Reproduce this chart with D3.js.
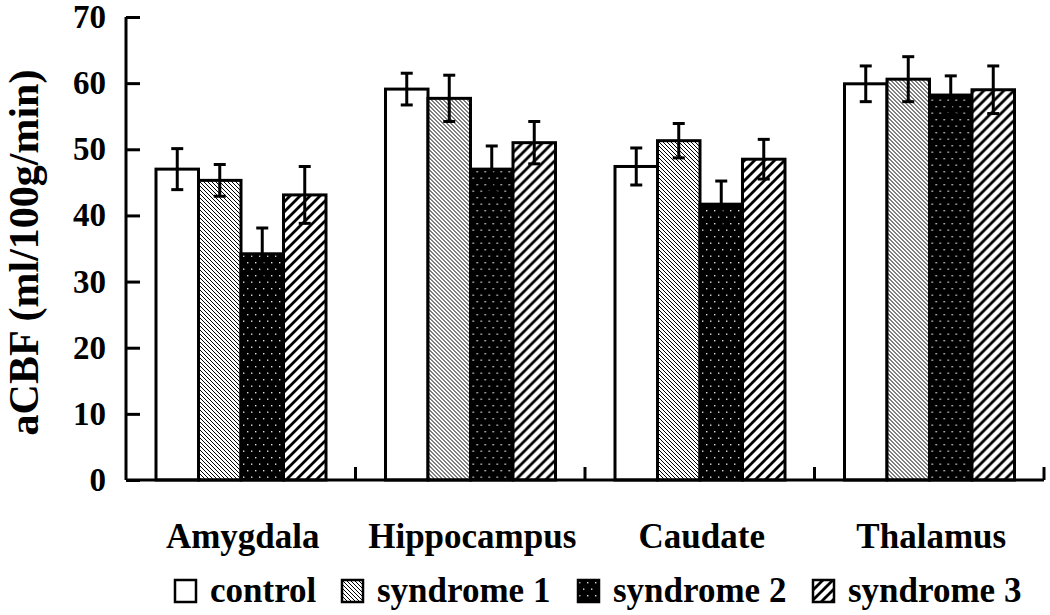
<!DOCTYPE html>
<html>
<head>
<meta charset="utf-8">
<script src="https://cdn.jsdelivr.net/npm/d3@7"></script>
<style>
  html, body { margin: 0; padding: 0; background: #fff; }
  svg { display: block; }
  text { font-family: "Liberation Serif", "Times New Roman", serif; font-weight: bold; fill: #000; }
</style>
</head>
<body>
<svg id="chart" width="1050" height="615"></svg>
<script>
// ---- data ----
const categories = ["Amygdala", "Hippocampus", "Caudate", "Thalamus"];
const seriesNames = ["control", "syndrome 1", "syndrome 2", "syndrome 3"];
const controlValues   = [47.0, 59.1, 47.4, 59.9];
const controlErrors   = [3.1, 2.4, 2.8, 2.7];
const syndrome1Values = [45.3, 57.7, 51.3, 60.6];
const syndrome1Errors = [2.4, 3.5, 2.6, 3.4];
const syndrome2Values = [34.2, 47.0, 41.7, 58.2];
const syndrome2Errors = [3.9, 3.5, 3.5, 2.9];
const syndrome3Values = [43.1, 51.0, 48.5, 59.0];
const syndrome3Errors = [4.3, 3.2, 3.0, 3.6];
const yTicks = [0, 10, 20, 30, 40, 50, 60, 70];
const yTitle = "aCBF (ml/100g/min)";

const seriesValues = [controlValues, syndrome1Values, syndrome2Values, syndrome3Values];
const seriesErrors = [controlErrors, syndrome1Errors, syndrome2Errors, syndrome3Errors];
const fills = ["#fff", "url(#pat1)", "url(#pat2)", "url(#pat3)"];

const svg = d3.select("#chart");

// ---- patterns ----
const defs = svg.append("defs");
// syndrome 1: dense thin backslash lines
const p1 = defs.append("pattern").attr("id", "pat1").attr("patternUnits", "userSpaceOnUse")
  .attr("width", 4).attr("height", 4);
p1.append("rect").attr("width", 4).attr("height", 4).attr("fill", "#fff");
p1.append("path").attr("d", "M-1,-1 L5,5 M-1,3 L1,5 M3,-1 L5,1")
  .attr("stroke", "#000").attr("stroke-width", 1.0);
// syndrome 2: black with white staggered dots
const p2 = defs.append("pattern").attr("id", "pat2").attr("patternUnits", "userSpaceOnUse")
  .attr("width", 8).attr("height", 13);
p2.append("rect").attr("width", 8).attr("height", 13).attr("fill", "#000");
p2.append("rect").attr("x", 1).attr("y", 2).attr("width", 1.4).attr("height", 1.4).attr("fill", "#ddd");
p2.append("rect").attr("x", 5).attr("y", 8.5).attr("width", 1.4).attr("height", 1.4).attr("fill", "#ddd");
// syndrome 3: wide slash lines
const p3 = defs.append("pattern").attr("id", "pat3").attr("patternUnits", "userSpaceOnUse")
  .attr("width", 10).attr("height", 10);
p3.append("rect").attr("width", 10).attr("height", 10).attr("fill", "#fff");
p3.append("path").attr("d", "M-2,2 L2,-2 M0,10 L10,0 M8,12 L12,8")
  .attr("stroke", "#000").attr("stroke-width", 2.8);

// ---- scales ----
const plotLeft = 126, plotRight = 1044, plotTop = 17, plotBottom = 480;
const y = d3.scaleLinear().domain([0, 70]).range([plotBottom, plotTop]);
const x0 = d3.scaleBand().domain(categories).range([plotLeft, plotRight]).padding(0);
const x1 = d3.scaleBand().domain(seriesNames).range([30, 200]).padding(0);

// ---- bars ----
const groups = svg.append("g").selectAll("g").data(categories).join("g")
  .attr("transform", d => `translate(${x0(d)},0)`);

groups.each(function(cat, ci) {
  const g = d3.select(this);
  seriesNames.forEach((s, si) => {
    const v = seriesValues[si][ci];
    g.append("rect")
      .attr("x", x1(s)).attr("y", y(v))
      .attr("width", x1.bandwidth()).attr("height", y(0) - y(v))
      .attr("fill", fills[si]).attr("stroke", "#000").attr("stroke-width", 3);
  });
  seriesNames.forEach((s, si) => {
    const v = seriesValues[si][ci], e = seriesErrors[si][ci];
    const cx = x1(s) + x1.bandwidth() / 2;
    const eb = g.append("g").attr("stroke", "#000").attr("stroke-width", 3);
    eb.append("line").attr("x1", cx).attr("x2", cx).attr("y1", y(v + e)).attr("y2", y(v - e));
    eb.append("line").attr("x1", cx - 6).attr("x2", cx + 6).attr("y1", y(v + e)).attr("y2", y(v + e));
    eb.append("line").attr("x1", cx - 6).attr("x2", cx + 6).attr("y1", y(v - e)).attr("y2", y(v - e));
  });
});

// ---- y axis ----
const yAxis = d3.axisRight(y).tickValues(yTicks).tickSize(14).tickFormat("");
const yG = svg.append("g").attr("transform", `translate(${plotLeft},0)`).call(yAxis);
yG.select(".domain").attr("stroke", "#000").attr("stroke-width", 3).attr("d", `M0,${plotTop}V${plotBottom}`);
yG.selectAll(".tick line").attr("stroke", "#000").attr("stroke-width", 3);

svg.append("g").selectAll("text").data(yTicks).join("text")
  .attr("x", 106).attr("y", d => y(d) + 11)
  .attr("text-anchor", "end").attr("font-size", 33).text(d => d);

// ---- x axis ----
const boundaries = categories.map(c => x0(c)).concat([plotRight]);
svg.append("line").attr("x1", plotLeft).attr("x2", plotRight).attr("y1", plotBottom).attr("y2", plotBottom)
  .attr("stroke", "#000").attr("stroke-width", 3);
svg.append("g").selectAll("line").data(boundaries.slice(1)).join("line")
  .attr("x1", d => d).attr("x2", d => d).attr("y1", plotBottom).attr("y2", plotBottom - 13)
  .attr("stroke", "#000").attr("stroke-width", 3);

svg.append("g").selectAll("text").data(categories).join("text")
  .attr("x", d => x0(d) + x0.bandwidth() / 2 + 2).attr("y", 548)
  .attr("text-anchor", "middle").attr("font-size", 35).text(d => d);

// ---- y title ----
svg.append("text")
  .attr("transform", `translate(38,${(plotTop + plotBottom) / 2 + 4}) rotate(-90)`)
  .attr("text-anchor", "middle").attr("font-size", 42).text(yTitle);

// ---- legend ----
const legendX = [175, 342, 578, 813];
const legend = svg.append("g").selectAll("g").data(seriesNames).join("g")
  .attr("transform", (d, i) => `translate(${legendX[i]},580)`);
legend.append("rect").attr("width", 21).attr("height", 22)
  .attr("fill", (d, i) => fills[i]).attr("stroke", "#000").attr("stroke-width", 2.5);
legend.append("text").attr("x", 35).attr("y", 22).attr("font-size", 35).text(d => d);
</script>
</body>
</html>
